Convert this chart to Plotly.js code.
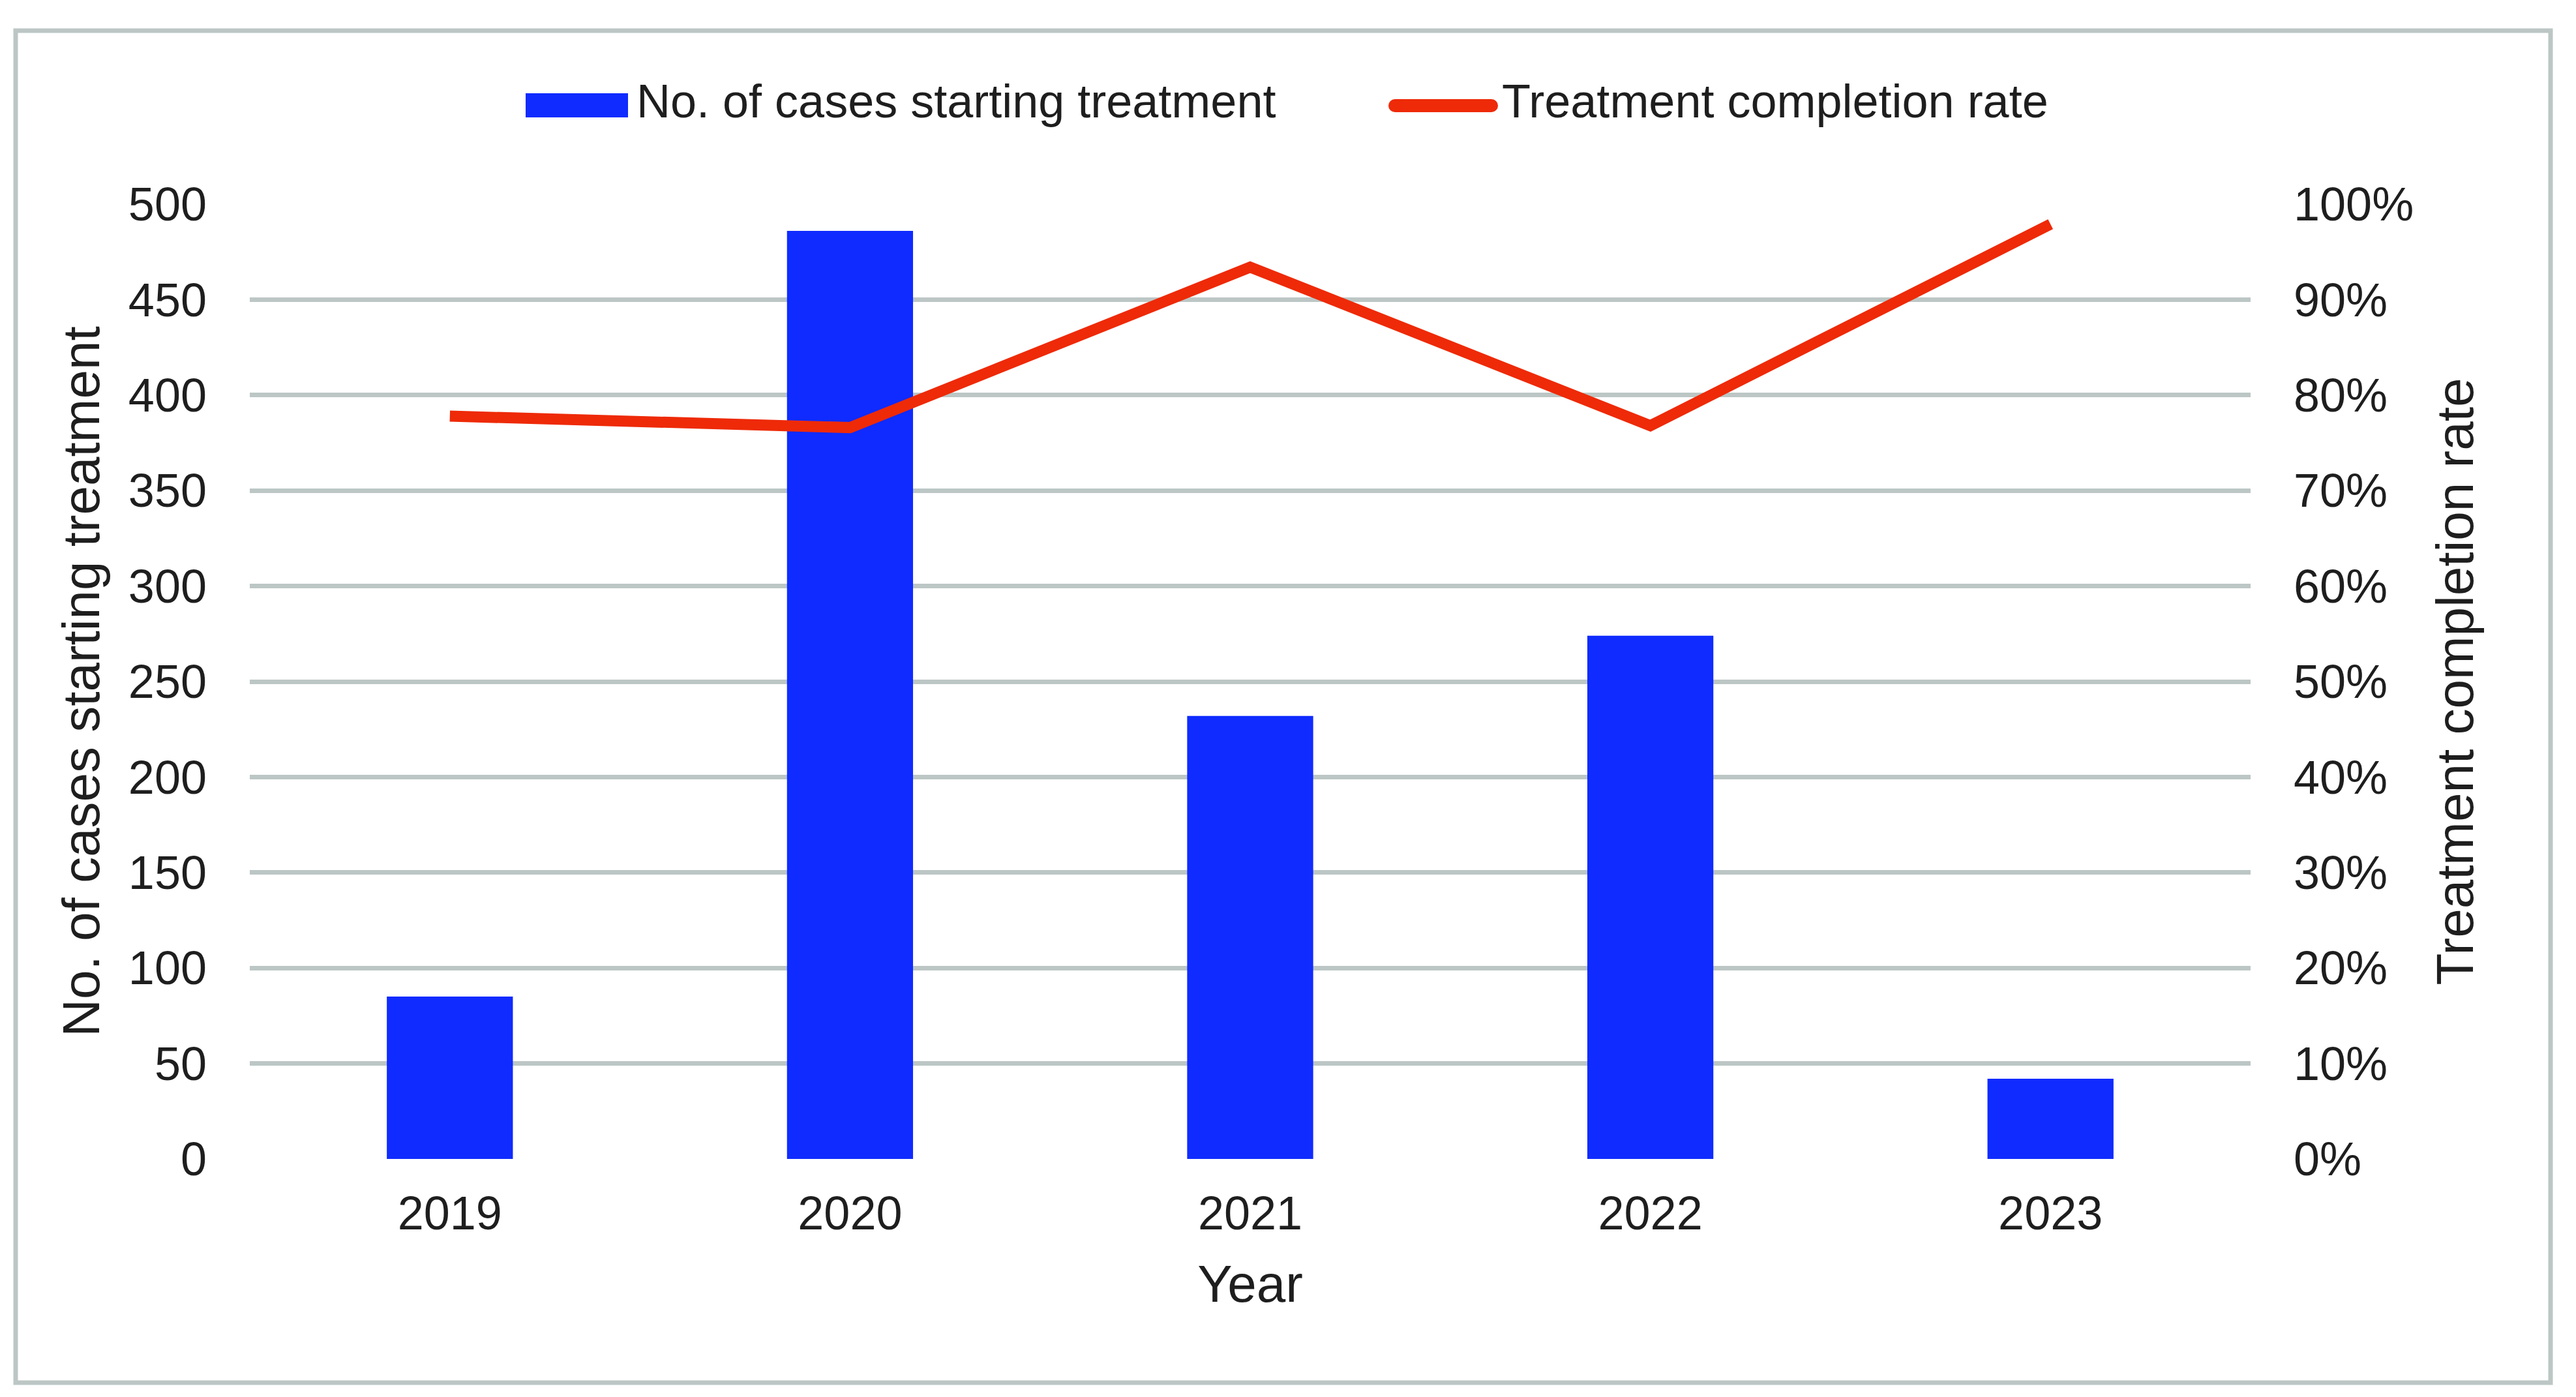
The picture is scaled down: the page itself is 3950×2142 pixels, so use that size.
<!DOCTYPE html>
<html>
<head>
<meta charset="utf-8">
<script src="https://cdn.plot.ly/plotly-3.0.1.min.js"></script>
<style>
  html, body { margin: 0; padding: 0; background: #ffffff; }
  #chart { width: 3950px; height: 2142px; }
</style>
</head>
<body>
<div id="chart"></div>
<script>
// Treatment starts per year and the share of those cases that completed treatment
const years = ['2019', '2020', '2021', '2022', '2023'];
const casesStarting = [85, 486, 232, 274, 42];
const completionRate = [0.778, 0.766, 0.934, 0.768, 0.979];

const barName = 'No. of cases starting treatment';
const lineName = 'Treatment completion rate';
const xTitle = 'Year';

const W = 3950, H = 2142;
const M = { l: 383, r: 499, t: 313, b: 365 };
const plotW = W - M.l - M.r;
const plotH = H - M.t - M.b;

// pixel -> paper coordinate helpers for the frame and the legend
const px = x => (x - M.l) / plotW;
const py = y => (H - M.b - y) / plotH;

const FONT = '"Liberation Sans", Arial, Helvetica, sans-serif';
const TEXT = '#1e1e1e';
const GRID = '#bcc7c5';
const BLUE = '#0f2bff';
const RED = '#ee2a08';

const traces = [
  {
    type: 'bar',
    name: barName,
    x: years,
    y: casesStarting,
    marker: { color: BLUE },
    yaxis: 'y',
    hoverinfo: 'x+y'
  },
  {
    type: 'scatter',
    mode: 'lines',
    name: lineName,
    x: years,
    y: completionRate,
    line: { color: RED, width: 17 },
    yaxis: 'y2'
  }
];

const shapes = [
  // outer frame
  {
    type: 'rect', xref: 'paper', yref: 'paper',
    x0: px(24), x1: px(3911), y0: py(47), y1: py(2120),
    line: { color: GRID, width: 7 }, fillcolor: 'rgba(0,0,0,0)', layer: 'below'
  },
  // legend swatch: bars
  {
    type: 'rect', xref: 'paper', yref: 'paper',
    x0: px(806), x1: px(963), y0: py(143), y1: py(180),
    line: { width: 0 }, fillcolor: BLUE
  },
  // legend swatch: line with rounded ends
  {
    type: 'line', xref: 'paper', yref: 'paper',
    x0: px(2139), x1: px(2287), y0: py(162), y1: py(162),
    line: { color: RED, width: 20 }
  },
  {
    type: 'circle', xref: 'paper', yref: 'paper',
    x0: px(2129), x1: px(2149), y0: py(152), y1: py(172),
    line: { width: 0 }, fillcolor: RED
  },
  {
    type: 'circle', xref: 'paper', yref: 'paper',
    x0: px(2277), x1: px(2297), y0: py(152), y1: py(172),
    line: { width: 0 }, fillcolor: RED
  }
];

const annotations = [
  {
    xref: 'paper', yref: 'paper', x: px(974), y: py(155),
    xanchor: 'left', yanchor: 'middle', showarrow: false,
    text: barName, font: { family: FONT, size: 72, color: TEXT }
  },
  {
    xref: 'paper', yref: 'paper', x: px(2301), y: py(155),
    xanchor: 'left', yanchor: 'middle', showarrow: false,
    text: lineName, font: { family: FONT, size: 72, color: TEXT }
  }
];

const layout = {
  width: W,
  height: H,
  margin: M,
  paper_bgcolor: '#ffffff',
  plot_bgcolor: '#ffffff',
  font: { family: FONT, size: 72, color: TEXT },
  showlegend: false,
  bargap: 0.685,
  xaxis: {
    type: 'category',
    showgrid: false,
    zeroline: false,
    showline: false,
    ticks: '',
    ticklabelstandoff: 35,
    tickfont: { family: FONT, size: 72, color: TEXT },
    title: { text: xTitle, font: { family: FONT, size: 80, color: TEXT }, standoff: 40 }
  },
  yaxis: {
    range: [0, 500],
    dtick: 50,
    tick0: 0,
    showgrid: true,
    gridcolor: GRID,
    gridwidth: 7,
    zeroline: false,
    showline: false,
    ticks: '',
    ticklabelstandoff: 65,
    tickfont: { family: FONT, size: 72, color: TEXT },
    title: { text: barName, font: { family: FONT, size: 80, color: TEXT }, standoff: 17 }
  },
  yaxis2: {
    overlaying: 'y',
    side: 'right',
    range: [0, 1],
    dtick: 0.1,
    tick0: 0,
    tickformat: '.0%',
    showgrid: false,
    zeroline: false,
    showline: false,
    ticks: '',
    ticklabelstandoff: 65,
    tickfont: { family: FONT, size: 72, color: TEXT },
    title: { text: lineName, font: { family: FONT, size: 80, color: TEXT }, standoff: 35 }
  },
  shapes: shapes,
  annotations: annotations
};

Plotly.newPlot('chart', traces, layout, { displayModeBar: false, staticPlot: true });
</script>
</body>
</html>
